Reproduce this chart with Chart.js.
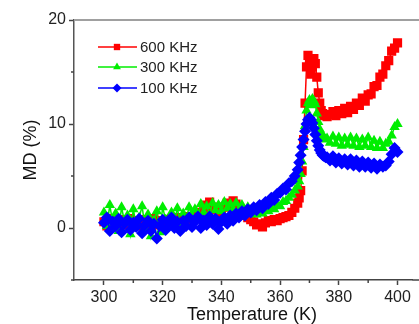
<!DOCTYPE html>
<html>
<head>
<meta charset="utf-8">
<script src="https://cdn.jsdelivr.net/npm/chart.js@4/dist/chart.umd.min.js"></script>
<style>
  body { margin: 0; background: #fff; }
  #wrap { width: 419px; height: 324px; }
</style>
</head>
<body>
<div id="wrap"><canvas id="md-chart" width="419" height="324"></canvas></div>
<script>
// temperature (K), finer steps around the transition
const temps = [
  300, 301, 302, 303, 304, 305, 306, 307, 308, 309,
  310, 311, 312, 313, 314, 315, 316, 317, 318, 319,
  320, 321, 322, 323, 324, 325, 326, 327, 328, 329,
  330, 331, 332, 333, 334, 335, 336, 337, 338, 339,
  340, 341, 342, 343, 344, 345, 346, 347, 348, 349,
  350, 351, 352, 353, 354, 355, 356, 357, 358, 359,
  360, 361, 362, 363, 364, 365, 366,
  366.5, 367, 367.5, 368, 368.5, 369, 369.5, 370, 370.5, 371,
  371.5, 372, 372.5, 373, 373.5, 374, 374.5, 375, 375.5, 376,
  377, 378, 379, 380, 381, 382, 383, 384, 385, 386,
  387, 388, 389, 390, 391, 392, 393, 394, 395, 396,
  397, 398, 399, 400
];

const md600 = [
  0.6, 0.2, 0.9, 0.4, 0.7, 0.1, 0.8, 0.5, 0.3, 0.9,
  0.4, 0.7, 0.2, 0.8, 0.5, 0.1, 0.6, 0.9, 0.3, 0.7,
  0.5, 0.8, 0.3, 0.9, 0.6, 1.0, 0.4, 0.8, 1.1, 0.7,
  1.0, 1.3, 0.9, 1.5, 1.8, 2.2, 2.5, 1.8, 2.0, 1.5,
  1.8, 2.0, 2.4, 2.2, 2.6, 2.3, 1.8, 1.5, 1.2, 1.0,
  0.8, 0.6, 0.3, 0.4, 0.1, 0.5, 0.7, 0.6, 0.8, 0.7,
  0.9, 1.0, 1.1, 1.2, 1.5, 1.9, 2.4,
  2.9, 3.6, 5.5, 8.5, 12.0, 15.5, 16.6, 16.0, 14.8, 15.5,
  16.3, 15.8, 14.5, 13.0, 12.0, 11.3, 11.0, 10.8, 10.9, 10.7,
  10.9, 11.2, 10.8, 11.3, 11.0, 11.5, 11.1, 11.7, 11.4, 12.0,
  11.8, 12.5, 12.2, 12.8, 12.9, 13.6, 13.7, 14.5, 14.8, 15.6,
  16.1, 17.0, 17.3, 17.8
];

const md300 = [
  1.5, 0.2, 2.2, 0.5, 1.4, -0.3, 2.0, 0.6, 1.2, -0.6,
  1.8, 0.3, 1.0, 2.1, 0.0, 1.3, -0.8, 0.7, 1.6, -0.4,
  2.0, 0.8, 0.1, 1.5, 0.6, 1.9, 0.4, 1.4, 0.9, 2.0,
  1.1, 1.8, 1.0, 2.3, 1.5, 2.1, 1.2, 2.4, 1.7, 2.2,
  1.6, 2.5, 1.9, 2.3, 1.8, 2.4, 1.7, 2.2, 1.5, 2.0,
  1.4, 1.8, 1.3, 1.7, 1.4, 1.8, 1.6, 2.0, 1.8, 2.2,
  2.1, 2.5, 2.6, 2.9, 3.2, 3.6, 4.0,
  4.5, 5.2, 6.4, 7.8, 9.8, 11.3, 12.0, 12.3, 11.8, 12.4,
  12.2, 11.9, 11.0, 10.2, 9.5, 9.1, 8.8, 8.7, 8.5, 8.6,
  8.2, 8.8, 8.1, 8.7, 7.9, 8.6, 8.0, 8.7, 7.9, 8.6,
  7.8, 8.5, 7.9, 8.7, 7.8, 8.4, 7.7, 8.3, 7.7, 8.1,
  8.3, 8.9, 9.7, 10.0
];

const md100 = [
  0.5, 1.0, -0.3, 0.6, 0.2, 0.9, -0.4, 0.4, 0.8, -0.2,
  0.5, 0.1, 0.9, -0.5, 0.3, 0.7, -0.3, 0.4, -1.0, 0.2,
  0.8, -0.2, 0.5, 1.0, 0.0, 0.6, -0.3, 0.7, 0.2, 1.0,
  0.1, 0.6, 1.1, 0.0, 0.7, 0.3, 1.1, 0.4, 0.9, -0.1,
  0.6, 1.0, 0.4, 1.2, 0.7, 1.4, 1.0, 1.6, 1.2, 1.8,
  1.5, 2.0, 1.7, 2.2, 1.9, 2.5, 2.3, 2.9, 2.7, 3.3,
  3.4, 3.8, 3.7, 4.3, 4.5, 5.0, 5.6,
  6.3, 7.0, 7.8, 8.5, 9.3, 10.0, 10.4, 10.6, 10.4, 10.1,
  9.6, 9.0, 8.4, 7.9, 7.5, 7.2, 7.0, 6.9, 6.8, 6.8,
  6.5, 6.9, 6.3, 6.7, 6.2, 6.6, 6.1, 6.6, 6.0, 6.5,
  5.9, 6.4, 5.9, 6.3, 5.8, 6.2, 5.7, 6.1, 5.9, 6.0,
  6.4, 7.1, 7.7, 7.3
];

const xTicks = [300, 320, 340, 360, 380, 400];
const xMinor = [310, 330, 350, 370, 390];
const yTicks = [0, 10, 20];
const yMinor = [-5, 5, 15];

const seriesLabels = ['600 KHz', '300 KHz', '100 KHz'];
const seriesColors = ['#ff0000', '#00ee00', '#0000ff'];
const seriesStyles = ['rect', 'triangle', 'rectRot'];
const seriesRadius = [6.5, 6, 6];

const fontFamily = '"Liberation Sans", Arial, sans-serif';
Chart.defaults.font.family = fontFamily;

function points(values) {
    return temps.map((t, i) => ({ x: t, y: values[i] }));
}

function makeSet(idx, values) {
    return {
        label: seriesLabels[idx],
        data: points(values),
        borderColor: seriesColors[idx],
        backgroundColor: seriesColors[idx],
        borderWidth: 1.5,
        pointStyle: seriesStyles[idx],
        pointRadius: seriesRadius[idx],
        pointBorderWidth: 0,
        tension: 0
    };
}

// hand-drawn legend (line + marker + text), minor ticks, frame lines, x title
const extras = {
    id: 'extras',
    afterDraw(chart) {
        const ctx = chart.ctx;
        const area = chart.chartArea;
        const xs = chart.scales.x;
        const ys = chart.scales.y;

        ctx.save();
        // the plot runs on past the right edge of the picture
        ctx.strokeStyle = '#a0a0a0';
        ctx.lineWidth = 2;
        ctx.beginPath();
        ctx.moveTo(area.left, area.top);
        ctx.lineTo(chart.width, area.top);
        ctx.stroke();

        ctx.strokeStyle = '#444';
        ctx.lineWidth = 1.5;
        ctx.beginPath();
        ctx.moveTo(area.right, area.bottom);
        ctx.lineTo(chart.width, area.bottom);
        xMinor.forEach(v => {
            const px = xs.getPixelForValue(v);
            ctx.moveTo(px, area.bottom);
            ctx.lineTo(px, area.bottom + 3);
        });
        yMinor.forEach(v => {
            const py = ys.getPixelForValue(v);
            ctx.moveTo(area.left, py);
            ctx.lineTo(area.left - 3, py);
        });
        ctx.stroke();

        ctx.fillStyle = '#111';
        ctx.font = '18px ' + fontFamily;
        ctx.textAlign = 'center';
        ctx.textBaseline = 'middle';
        ctx.fillText('Temperature (K)', 252, 315);

        const rows = [47, 67, 88];
        ctx.font = '15px ' + fontFamily;
        ctx.textAlign = 'left';
        seriesLabels.forEach((lab, i) => {
            const y = rows[i];
            ctx.strokeStyle = seriesColors[i];
            ctx.lineWidth = 1.5;
            ctx.beginPath();
            ctx.moveTo(98, y);
            ctx.lineTo(137, y);
            ctx.stroke();
            ctx.fillStyle = seriesColors[i];
            Chart.helpers.drawPoint(ctx, {
                pointStyle: seriesStyles[i],
                radius: 4.5,
                borderWidth: 0
            }, 117, y);
            ctx.fillStyle = '#222';
            ctx.fillText(lab, 140, y + 1);
        });
        ctx.restore();
    }
};

new Chart(document.getElementById('md-chart'), {
    type: 'line',
    data: {
        // blue first so it is painted on top, red ends up underneath
        datasets: [makeSet(2, md100), makeSet(1, md300), makeSet(0, md600)]
    },
    options: {
        responsive: false,
        animation: false,
        layout: { padding: { top: 20, right: 0, left: 0, bottom: 0 } },
        plugins: {
            legend: { display: false },
            tooltip: { enabled: false }
        },
        scales: {
            x: {
                type: 'linear',
                min: 289.8,
                max: 405.1,
                afterBuildTicks: s => { s.ticks = xTicks.map(v => ({ value: v })); },
                afterFit: s => {
                    s.height = 44;
                    s.paddingLeft = 0;
                    s.paddingRight = 0;
                },
                ticks: {
                    color: '#222',
                    font: { size: 16 },
                    padding: 3,
                    maxRotation: 0,
                    autoSkip: false
                },
                grid: {
                    drawOnChartArea: false,
                    tickLength: 5,
                    tickColor: '#444',
                    tickWidth: 1.5
                },
                border: { color: '#444', width: 1.5 }
            },
            y: {
                min: -5,
                max: 20,
                afterBuildTicks: s => { s.ticks = yTicks.map(v => ({ value: v })); },
                afterFit: s => { s.width = 74; },
                ticks: {
                    color: '#222',
                    font: { size: 16 },
                    padding: 3
                },
                grid: {
                    drawOnChartArea: false,
                    tickLength: 5,
                    tickColor: '#444',
                    tickWidth: 1.5
                },
                border: { color: '#555', width: 1.5 },
                title: {
                    display: true,
                    text: 'MD (%)',
                    color: '#111',
                    font: { size: 18, lineHeight: 1 },
                    padding: { top: 22, bottom: 0 }
                }
            }
        }
    },
    plugins: [extras]
});
</script>
</body>
</html>
